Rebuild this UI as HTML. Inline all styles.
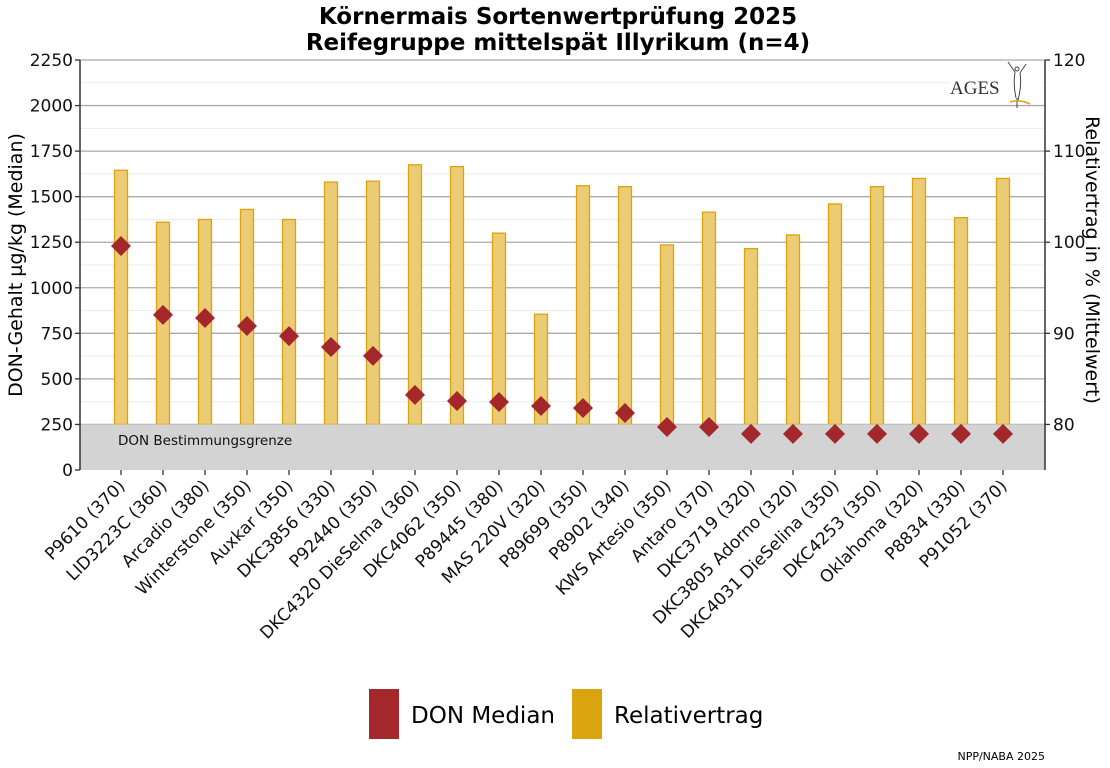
<!DOCTYPE html>
<html><head><meta charset="utf-8"><style>
body{margin:0;background:#fff;}
svg{display:block;font-family:"DejaVu Sans","Liberation Sans",sans-serif;}
</style></head><body>
<svg id="c" width="1110" height="768" xmlns="http://www.w3.org/2000/svg"></svg>
<script>
const categories=["P9610 (370)","LID3223C (360)","Arcadio (380)","Winterstone (350)","Auxkar (350)","DKC3856 (330)","P92440 (350)","DKC4320 DieSelma (360)","DKC4062 (350)","P89445 (380)","MAS 220V (320)","P89699 (350)","P8902 (340)","KWS Artesio (350)","Antaro (370)","DKC3719 (320)","DKC3805 Adorno (320)","DKC4031 DieSelina (350)","DKC4253 (350)","Oklahoma (320)","P8834 (330)","P91052 (370)"];
const relYield=[107.9,102.2,102.5,103.6,102.5,106.6,106.7,108.5,108.3,101.0,92.1,106.2,106.1,99.7,103.3,99.3,100.8,104.2,106.1,107.0,102.7,107.0];
const donMedian=[1229,851,834,790,735,675,626,412,379,373,351,340,313,236,236,198,198,198,198,198,198,198];
const leftTicks=[0,250,500,750,1000,1250,1500,1750,2000,2250];
const rightTicks=[80,90,100,110,120];
const NS="http://www.w3.org/2000/svg";
const svg=document.getElementById('c');
function mk(t,a,txt){const e=document.createElementNS(NS,t);for(const k in a)e.setAttribute(k,a[k]);if(txt!==undefined)e.textContent=txt;svg.appendChild(e);return e;}
const X0=80,X1=1045,Y0=470,Y1=60;
const yL=v=>Y0-(v/2250)*(Y0-Y1);
const yR=v=>Y0-((v-75)/45)*(Y0-Y1);
const xC=i=>121+i*((1003-121)/(categories.length-1));
for(let v=125;v<2250;v+=250){const g=mk('line',{x1:X0,x2:X1,y1:yL(v),y2:yL(v),stroke:'#ebebeb','stroke-width':1});}
leftTicks.forEach(v=>{if(v===0)return;const g=mk('line',{x1:X0,x2:X1,y1:yL(v),y2:yL(v),stroke:'#aaaaaa','stroke-width':1.3});});
relYield.forEach((v,i)=>{const y=yR(v);const b=mk('rect',{x:xC(i)-6.5,y:y,width:13,height:yL(250)-y,fill:'#ebcb73',stroke:'#dba40e','stroke-width':1.3});});
const band=mk('rect',{x:X0,y:yL(250),width:X1-X0,height:Y0-yL(250),fill:'#d3d3d3'});

const bt=mk('text',{x:118,y:445,'font-size':13.5,fill:'#111'},'DON Bestimmungsgrenze');

donMedian.forEach((v,i)=>{const x=xC(i),y=yL(v),r=10;const d=mk('polygon',{points:`${x},${y-r} ${x+r},${y} ${x},${y+r} ${x-r},${y}`,fill:'#a4282b'});});
mk('line',{x1:X0,x2:X0,y1:Y1,y2:Y0,stroke:'#333','stroke-width':1.5});
mk('line',{x1:X1,x2:X1,y1:Y1,y2:Y0,stroke:'#333','stroke-width':1.5});
leftTicks.forEach(v=>{const y=yL(v);mk('line',{x1:X0-5,x2:X0,y1:y,y2:y,stroke:'#333','stroke-width':1.3});const t=mk('text',{x:X0-7,y:y+6,'font-size':17,'text-anchor':'end',fill:'#111'},v);});
rightTicks.forEach(v=>{const y=yR(v);mk('line',{x1:X1,x2:X1+5,y1:y,y2:y,stroke:'#333','stroke-width':1.3});const t=mk('text',{x:X1+8,y:y+6,'font-size':17,fill:'#111'},v);});
categories.forEach((c,i)=>{const x=xC(i);mk('line',{x1:x,x2:x,y1:Y0,y2:Y0+5,stroke:'#333','stroke-width':1.3});const t=mk('text',{x:x+5,y:Y0+17,'font-size':17,'text-anchor':'end',fill:'#111',transform:`rotate(-45 ${x+5} ${Y0+17})`},c);});
</script>
<svg style="position:absolute;left:0;top:0" width="1110" height="768" xmlns="http://www.w3.org/2000/svg">
<text x="558" y="24" font-size="23" font-weight="bold" text-anchor="middle">Körnermais Sortenwertprüfung 2025</text>
<text x="558" y="50" font-size="23" font-weight="bold" text-anchor="middle">Reifegruppe mittelspät Illyrikum (n=4)</text>
<text transform="translate(22 265) rotate(-90)" font-size="19" text-anchor="middle">DON-Gehalt µg/kg (Median)</text>
<text transform="translate(1086 260) rotate(90)" font-size="19" text-anchor="middle">Relativertrag in % (Mittelwert)</text>
<g>
<rect x="950" y="66" width="92" height="38" fill="#fff"/>
<text x="950" y="94" font-family="Liberation Serif,serif" font-size="19" fill="#333">AGES</text>
<path d="M1008 62 L1015 72 M1026 64 L1020 73 M1015 72 Q1013 85 1016 98 M1020 73 Q1022 85 1018 100 M1017 98 L1017 108" stroke="#444" fill="none" stroke-width="1"/>
<circle cx="1017" cy="69" r="2" fill="none" stroke="#444" stroke-width="1"/>
<path d="M1010 102 Q1020 99 1030 104" stroke="#d9a10b" fill="none" stroke-width="1.5"/>
</g>
<g>
<rect x="369" y="689" width="30" height="50" fill="#a4282b"/>
<text x="411" y="723" font-size="23">DON Median</text>
<rect x="572" y="689" width="30" height="50" fill="#dba40e"/>
<text x="614" y="723" font-size="23">Relativertrag</text>
</g>
<text x="1045" y="760" font-size="11" text-anchor="end">NPP/NABA 2025</text>
</svg>
</body></html>
